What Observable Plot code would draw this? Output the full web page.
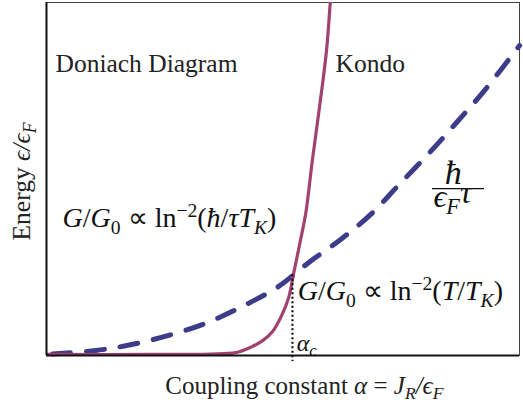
<!DOCTYPE html>
<html>
<head>
<meta charset="utf-8">
<script src="https://cdn.jsdelivr.net/npm/d3@7"></script>
<script src="https://cdn.jsdelivr.net/npm/@observablehq/plot@0.6"></script>
</head>
<body style="margin:0;background:#fff">
<div id="chart"></div>
<script>
// Coupling constant alpha (fraction of axis) and energy (fraction of axis)
const kondoAlpha  = [0, 0.220, 0.347, 0.400, 0.431, 0.457, 0.478, 0.497, 0.512, 0.522, 0.535, 0.548, 0.562, 0.579, 0.592, 0.600, 0.604];
const kondoEnergy = [0.003, 0.003, 0.004, 0.008, 0.023, 0.042, 0.068, 0.113, 0.164, 0.229, 0.314, 0.402, 0.552, 0.722, 0.864, 1.000, 1.060];

const scatAlpha  = [0, 0.104, 0.180, 0.258, 0.336, 0.414, 0.490, 0.554, 0.624, 0.685, 0.744, 0.808, 0.867, 0.928, 1.000];
const scatEnergy = [0.003, 0.014, 0.031, 0.057, 0.091, 0.139, 0.195, 0.263, 0.331, 0.399, 0.482, 0.572, 0.660, 0.754, 0.878];

const alphaC = 0.520;
const crossEnergy = 0.229;

const kondo = kondoAlpha.map((a, i) => ({a, e: kondoEnergy[i]}));
const scat = scatAlpha.map((a, i) => ({a, e: scatEnergy[i]}));

const serif = "Liberation Serif";

// rich text definitions (plain key -> parts)
const rich = {
  "Energy ϵ/ϵF": [{t: "Energy "}, {t: "ϵ/ϵ", i: 1}, {t: "F", i: 1, sub: 1}],
  "Coupling constant α = JR/ϵF": [{t: "Coupling constant "}, {t: "α", i: 1}, {t: " = "}, {t: "J", i: 1}, {t: "R", i: 1, sub: 1}, {t: "/ϵ", i: 1}, {t: "F", i: 1, sub: 1}],
  "G/G0 ∝ ln−2(ħ/τTK)": [{t: "G", i: 1}, {t: "/"}, {t: "G", i: 1}, {t: "0", sub: 1}, {t: " ∝ ln"}, {t: "−2", sup: 1}, {t: "("}, {t: "ħ", i: 1}, {t: "/"}, {t: "τT", i: 1}, {t: "K", i: 1, sub: 1}, {t: ")"}],
  "G/G0 ∝ ln−2(T/TK)": [{t: "G", i: 1}, {t: "/"}, {t: "G", i: 1}, {t: "0", sub: 1}, {t: " ∝ ln"}, {t: "−2", sup: 1}, {t: "("}, {t: "T", i: 1}, {t: "/"}, {t: "T", i: 1}, {t: "K", i: 1, sub: 1}, {t: ")"}],
  "αc": [{t: "α", i: 1}, {t: "c", i: 1, sub: 1}],
  "ϵFτ": [{t: "ϵ", i: 1}, {t: "F", i: 1, sub: 1}, {t: "τ", i: 1, rise: 1}],
  "ħ": [{t: "ħ", i: 1}]
};

function draw() {
  const plot = Plot.plot({
    width: 523,
    height: 407,
    marginLeft: 46,
    marginRight: 4,
    marginTop: 2,
    marginBottom: 52,
    x: {domain: [0, 1], axis: null},
    y: {domain: [0, 1], axis: null},
    marks: [
      Plot.frame({stroke: "#444", strokeWidth: 1}),
      Plot.line(scat, {x: "a", y: "e", curve: "catmull-rom", stroke: "#3c3c8a", strokeWidth: 5, strokeDasharray: "18,16", strokeDashoffset: -40}),
      Plot.line(kondo, {x: "a", y: "e", curve: "catmull-rom", stroke: "#a0416f", strokeWidth: 3.2, clip: true}),
      Plot.ruleY([0], {stroke: "#111", strokeWidth: 2}),
      Plot.ruleX([0], {stroke: "#111", strokeWidth: 2}),
      Plot.ruleX([alphaC], {y1: crossEnergy, y2: -0.017, stroke: "#000", strokeWidth: 2, strokeDasharray: "2,2.5"}),
      Plot.text(["Doniach Diagram"], {x: 0.019, y: 0.802, textAnchor: "start", lineAnchor: "bottom", fontSize: 25.5, fontFamily: serif, fill: "#222"}),
      Plot.text(["Kondo"], {x: 0.611, y: 0.802, textAnchor: "start", lineAnchor: "bottom", fontSize: 25.5, fontFamily: serif, fill: "#222"}),
      Plot.text(["G/G0 ∝ ln−2(ħ/τTK)"], {x: 0.034, y: 0.363, textAnchor: "start", lineAnchor: "bottom", fontSize: 28, fontFamily: serif, fill: "#111"}),
      Plot.text(["G/G0 ∝ ln−2(T/TK)"], {x: 0.531, y: 0.156, textAnchor: "start", lineAnchor: "bottom", fontSize: 28, fontFamily: serif, fill: "#111"}),
      Plot.text(["αc"], {x: 0.529, y: 0.014, textAnchor: "start", lineAnchor: "bottom", fontSize: 24, fontFamily: serif, fill: "#111"}),
      Plot.text(["ħ"], {x: 0.860, y: 0.487, textAnchor: "middle", lineAnchor: "bottom", fontSize: 34, fontFamily: serif, fill: "#111"}),
      Plot.ruleY([0.473], {x1: 0.816, x2: 0.926, stroke: "#111", strokeWidth: 1.3}),
      Plot.text(["ϵFτ"], {x: 0.818, y: 0.422, textAnchor: "start", lineAnchor: "bottom", fontSize: 32, fontFamily: serif, fill: "#111"}),
      Plot.text(["Coupling constant α = JR/ϵF"], {x: 0.545, y: -0.108, textAnchor: "middle", lineAnchor: "bottom", fontSize: 25, fontFamily: serif, fill: "#222"}),
      Plot.text(["Energy ϵ/ϵF"], {x: -0.034, y: 0.493, rotate: -90, textAnchor: "middle", lineAnchor: "bottom", fontSize: 25.5, fontFamily: serif, fill: "#222"})
    ]
  });

  plot.style.overflow = "visible";

  // rich formatting (italics, subscripts, superscripts)
  const NS = "http://www.w3.org/2000/svg";
  plot.querySelectorAll("text").forEach(el => {
    el.setAttribute("font-family", serif);
    const key = el.textContent;
    const parts = rich[key];
    if (!parts) return;
    const g = el.closest("g");
    const fs = parseFloat((g && g.getAttribute("font-size")) || el.getAttribute("font-size")) || 25;
    while (el.firstChild) el.removeChild(el.firstChild);
    let shift = 0;
    for (const p of parts) {
      const t = document.createElementNS(NS, "tspan");
      t.textContent = p.t;
      if (p.i) t.setAttribute("font-style", "italic");
      let target = 0;
      if (p.sub) target = fs * 0.22;
      if (p.sup) target = -fs * 0.38;
      if (p.rise) target = -fs * 0.1;
      const dy = target - shift;
      if (dy) t.setAttribute("dy", dy.toFixed(2));
      shift = target;
      if (p.sub || p.sup) t.setAttribute("font-size", (fs * 0.7).toFixed(1));
      el.appendChild(t);
    }
  });

  const host = document.getElementById("chart");
  host.replaceChildren(plot);
}

draw();
if (document.fonts && document.fonts.load) {
  Promise.all([
    document.fonts.load("25px 'Liberation Serif'"),
    document.fonts.load("italic 25px 'Liberation Serif'")
  ]).then(draw, () => {});
  document.fonts.ready.then(draw);
}
</script>
</body>
</html>
